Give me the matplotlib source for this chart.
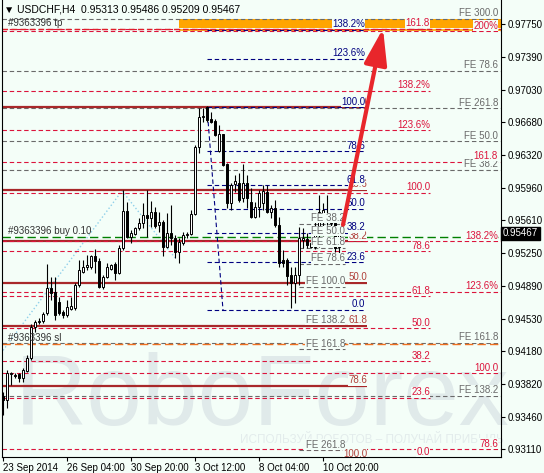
import numpy as np
import matplotlib.pyplot as plt
import matplotlib.transforms as mtransforms
from matplotlib.patches import Rectangle, FancyArrowPatch
from matplotlib import font_manager

plt.rcParams['font.family'] = ['Liberation Sans', 'DejaVu Sans']

BG = '#F4FEF8'

# USDCHF H4 candles
opens = [0.9369, 0.9365, 0.9393, 0.9392, 0.9393, 0.9389, 0.9397, 0.9411, 0.9444, 0.9450,
         0.9451, 0.9460, 0.9487, 0.9483, 0.9472, 0.9461, 0.9458, 0.9464, 0.9465, 0.9490,
         0.9504, 0.9510, 0.9510, 0.9522, 0.9517, 0.9488, 0.9499, 0.9508, 0.9513, 0.9503,
         0.9531, 0.9571, 0.9543, 0.9546, 0.9553, 0.9558, 0.9567, 0.9563, 0.9570, 0.9556,
         0.9559, 0.9532, 0.9547, 0.9542, 0.9526, 0.9536, 0.9545, 0.9546, 0.9568, 0.9641,
         0.9674, 0.9684, 0.9671, 0.9669, 0.9636, 0.9655, 0.9622, 0.9580, 0.9600, 0.9602,
         0.9585, 0.9602, 0.9581, 0.9564, 0.9575, 0.9580, 0.9592, 0.9570, 0.9574, 0.9556,
         0.9518, 0.9518, 0.9501, 0.9492, 0.9501, 0.9539, 0.9540, 0.9536, 0.9532, 0.9554,
         0.9563, 0.9563, 0.9567, 0.9558, 0.95313]
highs = [0.9374, 0.9398, 0.9395, 0.9394, 0.9394, 0.9400, 0.9414, 0.9448, 0.9452, 0.9454,
         0.9461, 0.9513, 0.9499, 0.9499, 0.9477, 0.9463, 0.9474, 0.9477, 0.9492, 0.9518,
         0.9518, 0.9523, 0.9523, 0.9530, 0.9520, 0.9501, 0.9514, 0.9513, 0.9515, 0.9534,
         0.9594, 0.9581, 0.9550, 0.9554, 0.9563, 0.9580, 0.9594, 0.9582, 0.9575, 0.9570,
         0.9561, 0.9569, 0.9578, 0.9545, 0.9542, 0.9548, 0.9548, 0.9572, 0.9643, 0.9683,
         0.9683, 0.9686, 0.9679, 0.9671, 0.9665, 0.9655, 0.9623, 0.9602, 0.9610, 0.9612,
         0.9622, 0.9610, 0.9596, 0.9581, 0.9594, 0.9599, 0.9599, 0.9578, 0.9583, 0.9564,
         0.9529, 0.9520, 0.9510, 0.9510, 0.9554, 0.9553, 0.9547, 0.9543, 0.9567, 0.9588,
         0.9580, 0.9588, 0.9569, 0.9559, 0.95486]
lows = [0.9348, 0.9356, 0.9381, 0.9389, 0.9385, 0.9385, 0.9395, 0.9408, 0.9439, 0.9448,
        0.9449, 0.9458, 0.9474, 0.9452, 0.9458, 0.9454, 0.9455, 0.9463, 0.9463, 0.9488,
        0.9503, 0.9507, 0.9508, 0.9503, 0.9487, 0.9486, 0.9498, 0.9507, 0.9496, 0.9502,
        0.9528, 0.9542, 0.9536, 0.9545, 0.9550, 0.9553, 0.9543, 0.9554, 0.9553, 0.9548,
        0.9522, 0.9531, 0.9534, 0.9520, 0.9514, 0.9534, 0.9542, 0.9545, 0.9567, 0.9634,
        0.9668, 0.9668, 0.9667, 0.9653, 0.9635, 0.9620, 0.9574, 0.9572, 0.9592, 0.9581,
        0.9581, 0.9574, 0.9563, 0.9563, 0.9564, 0.9572, 0.9569, 0.9563, 0.9554, 0.9510,
        0.9510, 0.9490, 0.9465, 0.9471, 0.9490, 0.9531, 0.9531, 0.9531, 0.9530, 0.9532,
        0.9544, 0.9556, 0.9550, 0.9526, 0.95209]
closes = [0.9365, 0.9394, 0.9394, 0.9391, 0.9389, 0.9398, 0.9411, 0.9444, 0.9450, 0.9451,
          0.9459, 0.9487, 0.9482, 0.9458, 0.9460, 0.9458, 0.9466, 0.9467, 0.9490, 0.9507,
          0.9510, 0.9512, 0.9522, 0.9517, 0.9488, 0.9499, 0.9510, 0.9512, 0.9503, 0.9531,
          0.9571, 0.9543, 0.9547, 0.9553, 0.9558, 0.9567, 0.9563, 0.9570, 0.9555, 0.9559,
          0.9532, 0.9547, 0.9542, 0.9526, 0.9537, 0.9545, 0.9546, 0.9568, 0.9641, 0.9674,
          0.9675, 0.9670, 0.9668, 0.9654, 0.9655, 0.9621, 0.9580, 0.9599, 0.9604, 0.9583,
          0.9602, 0.9585, 0.9564, 0.9575, 0.9591, 0.9593, 0.9570, 0.9574, 0.9556, 0.9514,
          0.9514, 0.9500, 0.9492, 0.9501, 0.9542, 0.9542, 0.9534, 0.9532, 0.9553, 0.9570,
          0.9572, 0.9567, 0.9558, 0.9531, 0.95467]

time_ticks = [0, 16, 32, 48, 64, 80]
time_labels = ['23 Sep 2014', '26 Sep 04:00', '30 Sep 20:00', '3 Oct 12:00', '8 Oct 04:00', '10 Oct 20:00']
price_ticks = [0.97750, 0.97390, 0.97030, 0.96680, 0.96320, 0.95960, 0.95610,
               0.95250, 0.94890, 0.94530, 0.94180, 0.93820, 0.93460, 0.93110]

# fibo retracement (navy)
navy_levels = [0.9769, 0.9737, 0.9684, 0.9636, 0.9599, 0.9573, 0.9547, 0.9515, 0.9463]
navy_labels = ['138.2%', '123.6%', '100.0', '78.6', '61.8', '50.0', '38.2', '23.6', '0.0']
# fibo retracement (dark red, solid)
brown_levels = [0.9684, 0.9594, 0.9538, 0.9493, 0.9446, 0.9380, 0.9300]
brown_labels = ['0.0', '23.6', '38.2', '50.0', '61.8', '78.6', '100.0']
# fibo levels (crimson)
red_a_levels = [0.9770, 0.9702, 0.9659, 0.9591, 0.9527, 0.9478, 0.9443, 0.9407, 0.9367, 0.9302]
red_a_labels = ['161.8', '138.2%', '123.6%', '100.0', '78.6', '61.8', '50.0', '38.2', '23.6', '0.0']
red_b_levels = [0.9767, 0.9625, 0.9538, 0.9483, 0.9394, 0.9311]
red_b_labels = ['200%', '161.8', '138.2%', '123.6%', '100.0', '78.6']
# fibo expansions (gray)
fe_levels = [0.9781, 0.9724, 0.9683, 0.9647, 0.9616, 0.9427, 0.9369]
fe_labels = ['FE 300.0', 'FE 78.6', 'FE 261.8', 'FE 50.0', 'FE 38.2', 'FE 161.8', 'FE 138.2']
fe2_levels = [0.9557, 0.9543, 0.9531, 0.9513, 0.9488, 0.9446, 0.9420, 0.9310]
fe2_labels = ['FE 38.2', 'FE 50.0', 'FE 61.8', 'FE 78.6', 'FE 100.0', 'FE 138.2', 'FE 161.8', 'FE 261.8']

order_tp, order_open, order_sl = 0.9770, 0.9543, 0.9426
zone_low, zone_high = 0.9771, 0.9781
zigzag_x, zigzag_y = [0, 29.75, 43], [0.9419, 0.9593, 0.9520]
fe_trend_x, fe_trend_y = [51, 55], [0.9684, 0.9463]
arrow_from, arrow_to = (85, 0.9556), (95, 0.9770)

fig = plt.figure(figsize=(5.44, 4.73), dpi=100, facecolor=BG)
ax = fig.add_axes([2 / 544, 16 / 473, 499 / 544, 457 / 473])
ax.set_facecolor(BG)
XMIN, XMAX = -0.25, 124.5
ax.set_xlim(XMIN, XMAX)
ax.set_ylim(0.93027, 0.98012)

DASH = (0, (4, 2.5))


def levels(prices, labels, x0, x1, xl, color, tcolor=None, ls=DASH, lw=0.8):
    for p, t in zip(prices, labels):
        ax.hlines(p, x0, x1, colors=color, linestyles=ls, lw=lw, zorder=2)
        if t:
            ax.text(xl, p + 0.00008, t, ha='right', va='bottom', fontsize=7,
                    color=tcolor or color, zorder=5, clip_on=True,
                    bbox=dict(facecolor=BG, edgecolor='none', pad=0.2))


# watermark (narrow face if there is one, so it can be taller)
names = {f.name for f in font_manager.fontManager.ttflist}
if 'Liberation Sans Narrow' in names:
    wm_font, wm_size = 'Liberation Sans Narrow', 86
else:
    wm_font, wm_size = 'Liberation Sans', 72
ax.text(0.026, 0.07, 'RoboForex', transform=ax.transAxes, fontsize=wm_size, family=wm_font,
        color='#E0EAEA', zorder=0.5, va='baseline')
ax.text(0.477, 0.03, 'ИСПОЛЬЗУЙ РОБОТОВ – ПОЛУЧАЙ ПРИБЫЛЬ', transform=ax.transAxes,
        fontsize=8.5, color='#E3ECEC', zorder=0.5, va='baseline')

# target zone
ax.add_patch(Rectangle((44, zone_low), XMAX - 44, zone_high - zone_low,
                       facecolor='#FFA500', edgecolor='none', zorder=1.5))
ax.hlines(zone_low - 0.0003, 44, XMAX, colors='#FFA500', lw=1.2, zorder=1.5)

levels(fe_levels, fe_labels, XMIN, XMAX, 123.75, '#6A6A6A')
levels(fe2_levels, fe2_labels, 74, 85.5, 85.5, '#6A6A6A')
levels(brown_levels, brown_labels, XMIN, 91, 91, '#A8282A', '#B0403A', ls='solid', lw=1.6)
levels(red_a_levels, red_a_labels, XMIN, 106.75, 106.75, '#DC143C')
levels(red_b_levels, red_b_labels, XMIN, XMAX, 123.75, '#DC143C')
levels(navy_levels, navy_labels, 51, 90.5, 90.5, '#000080')

# orders
ax.hlines(order_tp, XMIN, XMAX, colors='#E0202A', linestyles=DASH, lw=1, zorder=2)
ax.hlines(order_open, XMIN, XMAX, colors='#008000', linestyles=(0, (6, 3)), lw=1, zorder=2)
ax.hlines(order_sl, XMIN, XMAX, colors='#F07020', linestyles=(0, (6, 3)), lw=1, zorder=2)
for p, t in [(order_tp, '#9363396 tp'), (order_open, '#9363396 buy 0.10'), (order_sl, '#9363396 sl')]:
    ax.text(1.25, p + 0.0001, t, fontsize=7, color='#333333', va='bottom', zorder=5)

ax.plot(zigzag_x, zigzag_y, color='#8FD0EA', ls=':', lw=1, zorder=1.8)
ax.plot(fe_trend_x, fe_trend_y, color='#000080', ls=DASH, lw=0.8, zorder=2)

# candles
o, h, l, c = map(np.array, (opens, highs, lows, closes))
idx = np.arange(len(o))
up = c >= o
ax.vlines(idx, l, h, color='black', lw=0.8, zorder=3)
body = np.maximum(np.abs(c - o), 0.00004)
ax.bar(idx, body, bottom=np.minimum(o, c), width=0.55,
       color=np.where(up, 'white', 'black'), edgecolor='black', lw=0.7, zorder=4)

arrow = FancyArrowPatch(arrow_from, arrow_to, arrowstyle='-|>,head_length=1.1,head_width=0.35',
                        mutation_scale=20, lw=3, color='#E8262B', shrinkA=0, shrinkB=0, zorder=6)
ax.add_patch(arrow)

# axes
ax.spines['top'].set_visible(False)
for s in ['left', 'bottom', 'right']:
    ax.spines[s].set_linewidth(0.8)
ax.yaxis.tick_right()
ax.set_yticks(price_ticks, [f'{p:.5f}' for p in price_ticks])
ax.tick_params(axis='y', direction='out', length=3, labelsize=7, pad=2)
ax.set_xticks(time_ticks, time_labels, ha='left')
ax.tick_params(axis='x', direction='out', length=3, labelsize=7, pad=1)

trans = mtransforms.blended_transform_factory(ax.transAxes, ax.transData)
ax.text(1.004, closes[-1], f'{closes[-1]:.5f}', transform=trans, color='white', fontsize=7,
        va='center', ha='left', zorder=7, bbox=dict(facecolor='black', edgecolor='black', pad=1.2))

fig.text(4 / 544, 1 - 9 / 473, '▼ USDCHF,H4  0.95313 0.95486 0.95209 0.95467',
         fontsize=7.5, va='center', ha='left')

fig.savefig('out.png', dpi=100, facecolor=BG)
